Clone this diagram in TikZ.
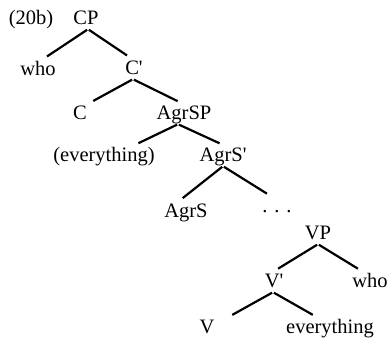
\documentclass[tikz,border=0pt]{standalone}
\usepackage{fontspec}
\newfontfamily\treefont{Liberation Serif}
\tikzset{
  lbl/.style={inner sep=1pt, text height=14pt, text depth=4pt, font=\treefont\fontsize{20.5}{24}\selectfont},
  branch/.style={line width=2.2pt, shorten <=1pt, shorten >=6pt}
}
\begin{document}
\begin{tikzpicture}[x=1pt,y=-1pt]
\useasboundingbox (0,0) rectangle (388,338);
% labels of the tree
\node[lbl] (ex) at (31,19) {(20b)};
\node[lbl] (cp) at (86,19) {CP};
\node[lbl] (whoA) at (38,70) {who};
\node[lbl] (cbar) at (134,69) {C'};
\node[lbl] (c) at (80,114) {C};
\node[lbl] (agrsp) at (184,114) {AgrSP};
\node[lbl] (evA) at (104,156) {(everything)};
\node[lbl] (agrsbar) at (223,156) {AgrS'};
\node[lbl] (agrs) at (186,212) {AgrS};
\node[lbl] (dots) at (277,207) {. . .};
\node[lbl] (vp) at (318,234) {VP};
\node[lbl] (vbar) at (274,282) {V'};
\node[lbl] (whoB) at (370,282) {who};
\node[lbl] (v) at (207,328) {V};
\node[lbl] (evB) at (330,328) {everything};
% branches: parent / shift / daughter / shift
\foreach \p/\ps/\d/\ds in {cp/2/whoA/4,cp/2/cbar/-2,cbar/-1/c/8,cbar/-1/agrsp/-1,agrsp/-6/evA/29,agrsp/-6/agrsbar/2,agrsbar/0/agrs/-8,agrsbar/0/dots/-5,vp/0/vbar/-1,vp/0/whoB/-7,vbar/-1/v/20,vbar/-1/evB/-12}
	\draw[branch] ([xshift=\ps pt]\p.south) -- ([xshift=\ds pt]\d.north);
\end{tikzpicture}
\end{document}
